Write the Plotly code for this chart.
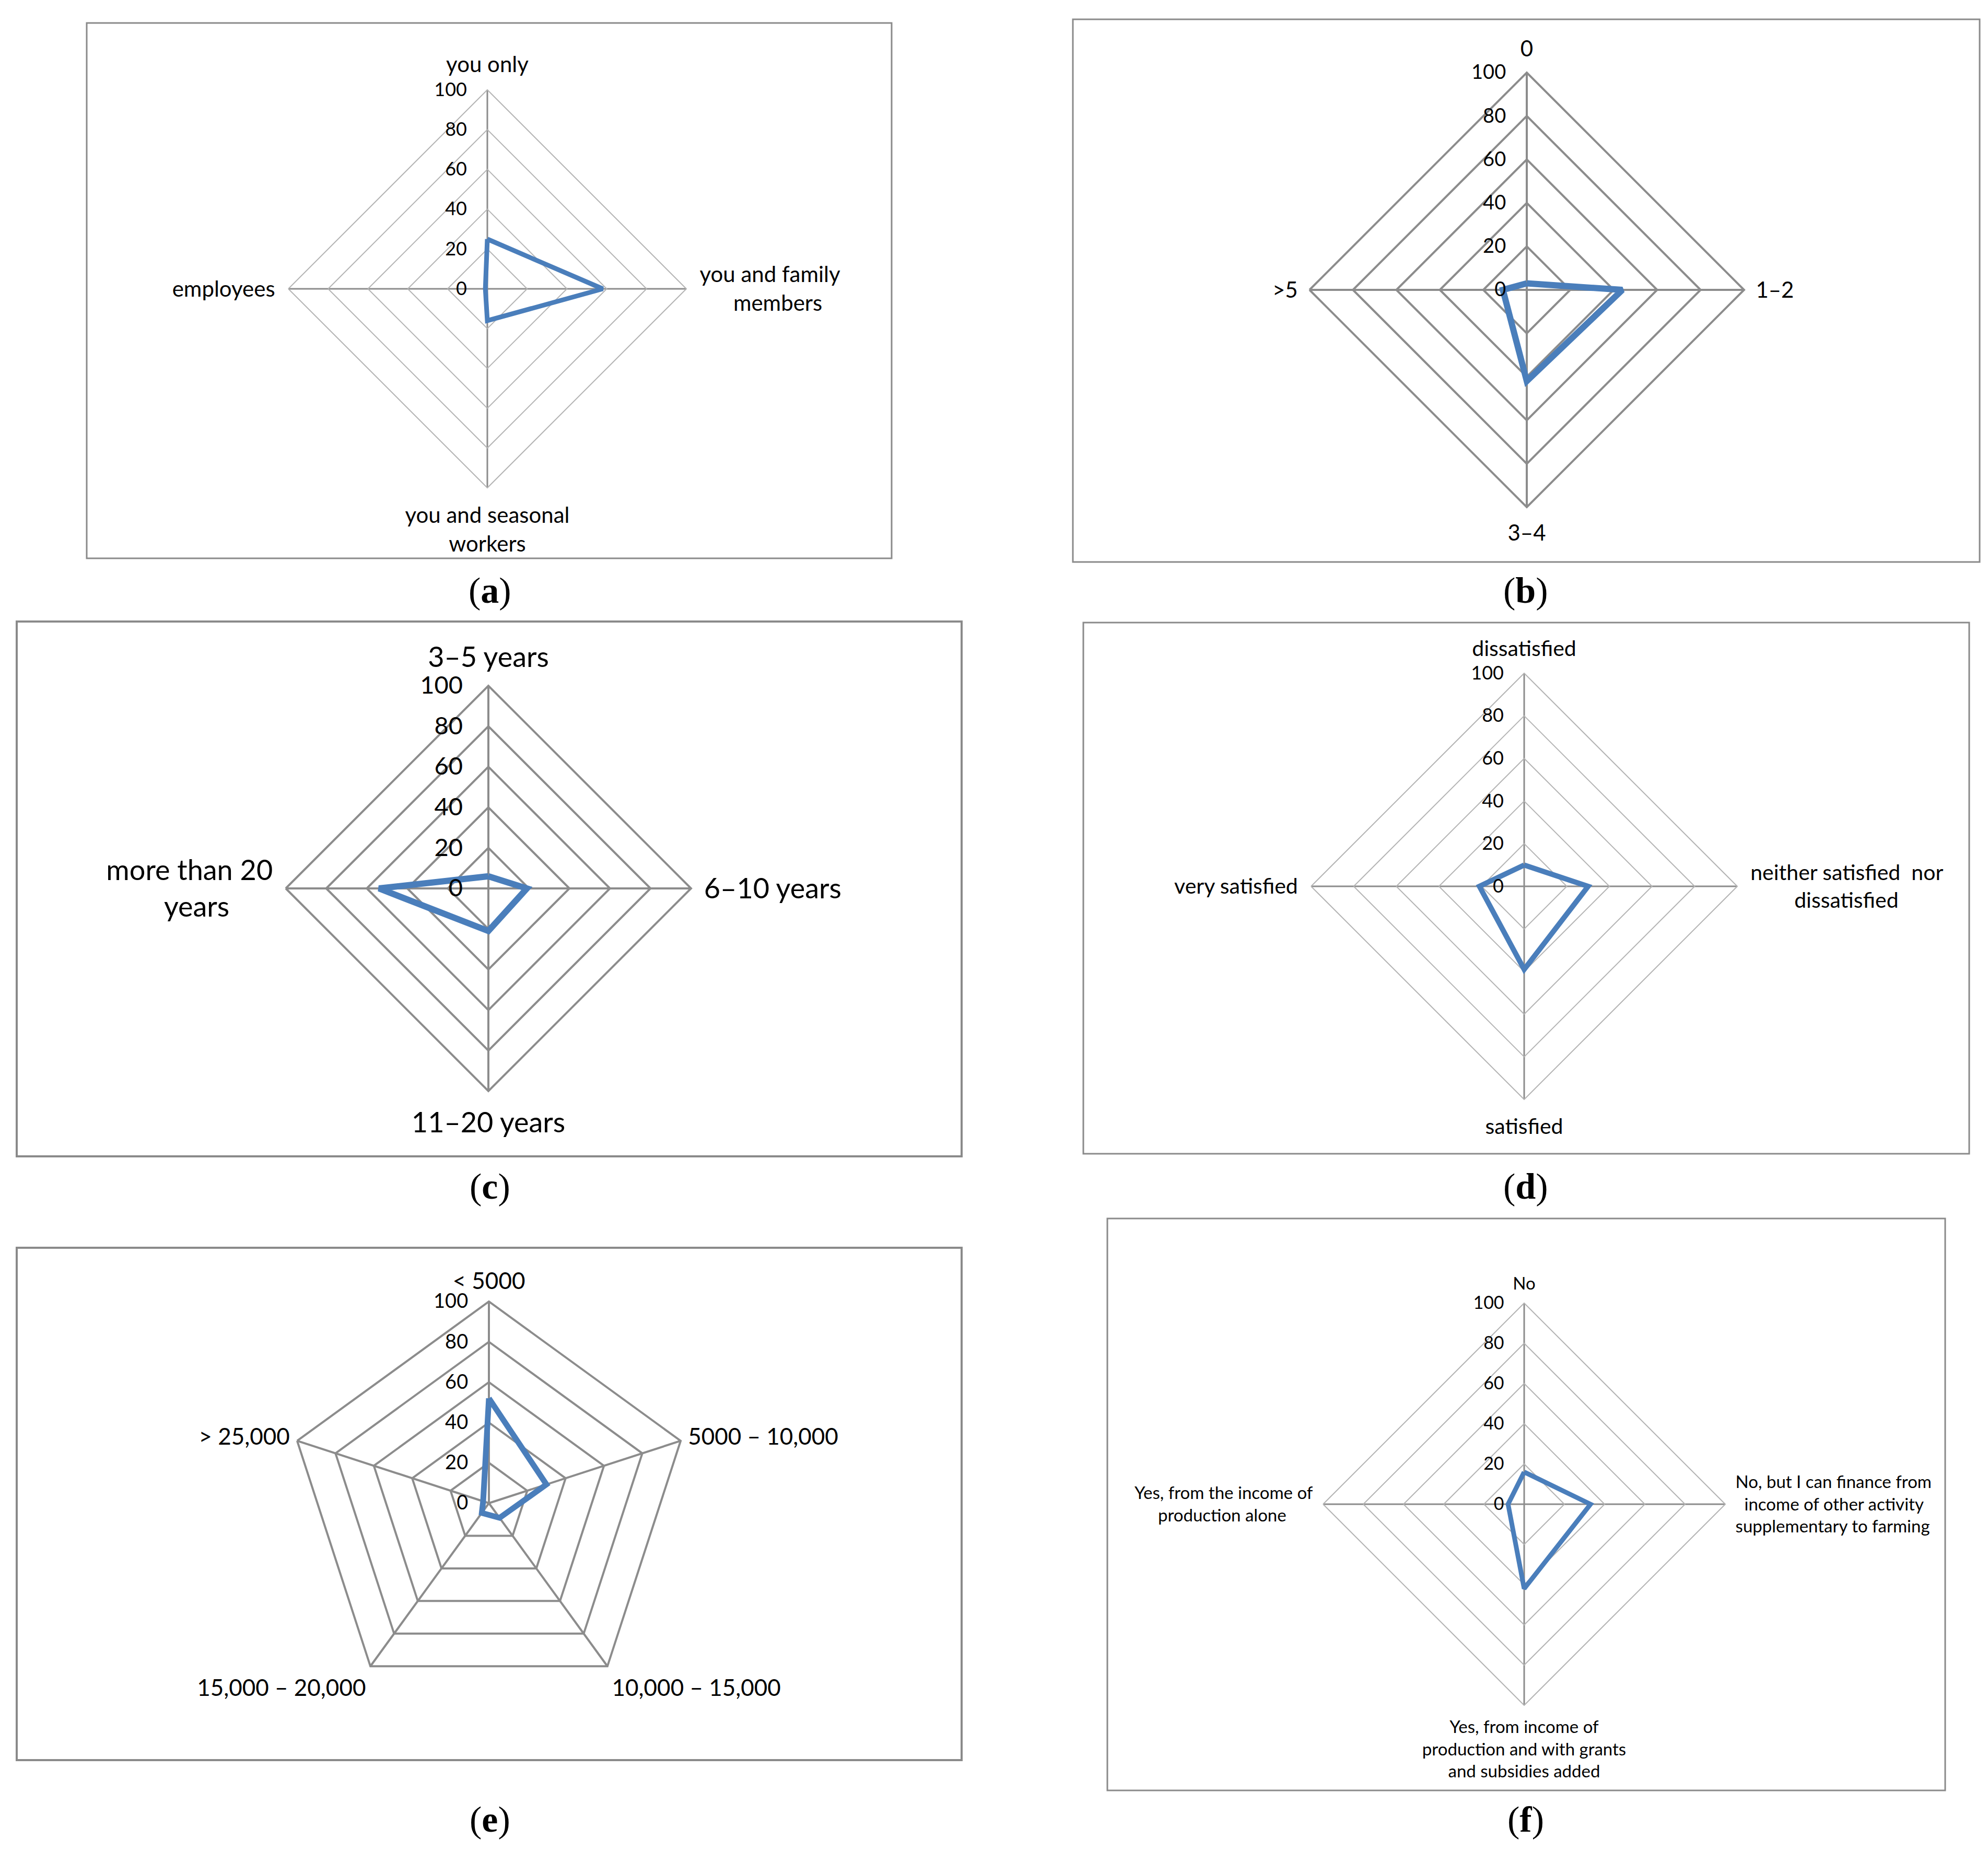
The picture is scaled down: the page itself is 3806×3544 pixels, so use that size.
import plotly.graph_objects as go

W, H = 3806, 3544
NB = "\u00a0"

# ---------------- data ----------------
a_cats = ["you only", "you and family<br>" + NB * 6 + "members", "you and seasonal<br>workers", "employees"]
a_vals = [25, 58, 16, 1]

b_cats = ["0", "1–2", "3–4", ">5"]
b_vals = [3, 44, 42, 11]

c_cats = ["3–5 years", "6–10 years", "11–20 years", "more than 20<br>years" + NB * 6]
c_vals = [6, 19, 21, 54]

d_cats = ["dissatisfied", "neither satisfied  nor<br>" + NB * 8 + "dissatisfied", "satisfied", "very satisfied"]
d_vals = [10, 30, 39, 21]

e_cats = ["< 5000", "5000 – 10,000", "10,000 – 15,000", "15,000 – 20,000", "> 25,000"]
e_vals = [52, 30, 9, 6, 3]

f_cats = ["No",
          "No, but I can finance from<br>" + NB * 2 + "income of other activity<br>supplementary to farming",
          "Yes, from income of<br>production and with grants<br>and subsidies added",
          "Yes, from the income of<br>production alone" + NB * 6]
f_vals = [16, 33, 42, 8]

radial_ticks = [0, 20, 40, 60, 80, 100]
panel_letters = ["a", "b", "c", "d", "e", "f"]

# ---------------- styling / layout ----------------
FONT = "Lato, Carlito, Calibri, sans-serif"
BLUE = "#4a7ebb"

panels = [
    dict(cats=a_cats, vals=a_vals, cx=925, cy=545, R=381, heavy=False, cf=42, tf=36, lw=9, rl=26, al=16,
         frame=(158, 36, 1699, 1061), cap=(930, 1122)),
    dict(cats=b_cats, vals=b_vals, cx=2915, cy=547, R=416, heavy=True, cf=42, tf=38, lw=12, rl=26, al=12,
         frame=(2046, 29, 3782, 1068), cap=(2913, 1122)),
    dict(cats=c_cats, vals=c_vals, cx=927, cy=1693, R=388, heavy=True, cf=54, tf=47, lw=12, rl=32, al=12,
         frame=(24, 1182, 1833, 2206), cap=(930, 2263)),
    dict(cats=d_cats, vals=d_vals, cx=2910, cy=1689, R=408, heavy=False, cf=41, tf=36, lw=10, rl=26, al=16,
         frame=(2066, 1184, 3762, 2201), cap=(2913, 2263)),
    dict(cats=e_cats, vals=e_vals, cx=928, cy=2870, R=386, heavy=True, cf=44, tf=38, lw=11, rl=26, al=4,
         frame=(24, 2381, 1833, 3362), cap=(930, 3475)),
    dict(cats=f_cats, vals=f_vals, cx=2910, cy=2872, R=385, heavy=False, cf=33, tf=34, lw=9, rl=26, al=12,
         frame=(2112, 2325, 3716, 3420), cap=(2913, 3475)),
]

fig = go.Figure()
layout = dict(
    width=W, height=H,
    margin=dict(l=0, r=0, t=0, b=0),
    paper_bgcolor="white", plot_bgcolor="white",
    showlegend=False,
    shapes=[], annotations=[],
)

for i, p in enumerate(panels):
    key = "polar" if i == 0 else f"polar{i+1}"
    theta = list(p["cats"]) + [p["cats"][0]]
    r = list(p["vals"]) + [p["vals"][0]]
    fig.add_trace(go.Scatterpolar(
        r=r, theta=theta, mode="lines",
        line=dict(color=BLUE, width=p["lw"]),
        subplot=key, hoverinfo="skip",
    ))
    if p["heavy"]:
        gcol, gw, scol, sw = "#8c8c8c", 4, "#8c8c8c", 4
    else:
        gcol, gw, scol, sw = "#b4b4b4", 2, "#8c8c8c", 3
    cx, cy, R = p["cx"], p["cy"], p["R"]
    layout[key] = dict(
        domain=dict(x=[(cx - R) / W, (cx + R) / W],
                    y=[1 - (cy + R) / H, 1 - (cy - R) / H]),
        gridshape="linear",
        bgcolor="rgba(0,0,0,0)",
        radialaxis=dict(
            range=[0, 100], tickvals=radial_ticks, angle=90, tickangle=90,
            side="counterclockwise", showline=False,
            ticks="outside", ticklen=p["rl"], tickcolor="rgba(0,0,0,0)",
            gridcolor=gcol, gridwidth=gw,
            tickfont=dict(family=FONT, size=p["tf"], color="#000000"),
        ),
        angularaxis=dict(
            type="category", categoryarray=p["cats"],
            direction="clockwise", rotation=90,
            showline=True, linecolor=gcol, linewidth=gw,
            gridcolor=scol, gridwidth=sw,
            ticks="outside", ticklen=p["al"], tickcolor="rgba(0,0,0,0)",
            tickfont=dict(family=FONT, size=p["cf"], color="#000000"),
        ),
    )
    x0, y0, x1, y1 = p["frame"]
    layout["shapes"].append(dict(
        type="rect", xref="paper", yref="paper",
        x0=x0 / W, x1=x1 / W, y0=1 - y1 / H, y1=1 - y0 / H,
        line=dict(color="#8a8a8a", width=4 if i in (2, 4) else 3),
        fillcolor="rgba(0,0,0,0)", layer="below",
    ))
    capx, capy = p["cap"]
    layout["annotations"].append(dict(
        text=f"(<b>{panel_letters[i]}</b>)", xref="paper", yref="paper",
        x=capx / W, y=1 - capy / H, xanchor="center", yanchor="middle",
        showarrow=False,
        font=dict(family="Liberation Serif, Times New Roman, serif", size=70, color="#000000"),
    ))

fig.update_layout(**layout)
fig.write_html("out.html")
